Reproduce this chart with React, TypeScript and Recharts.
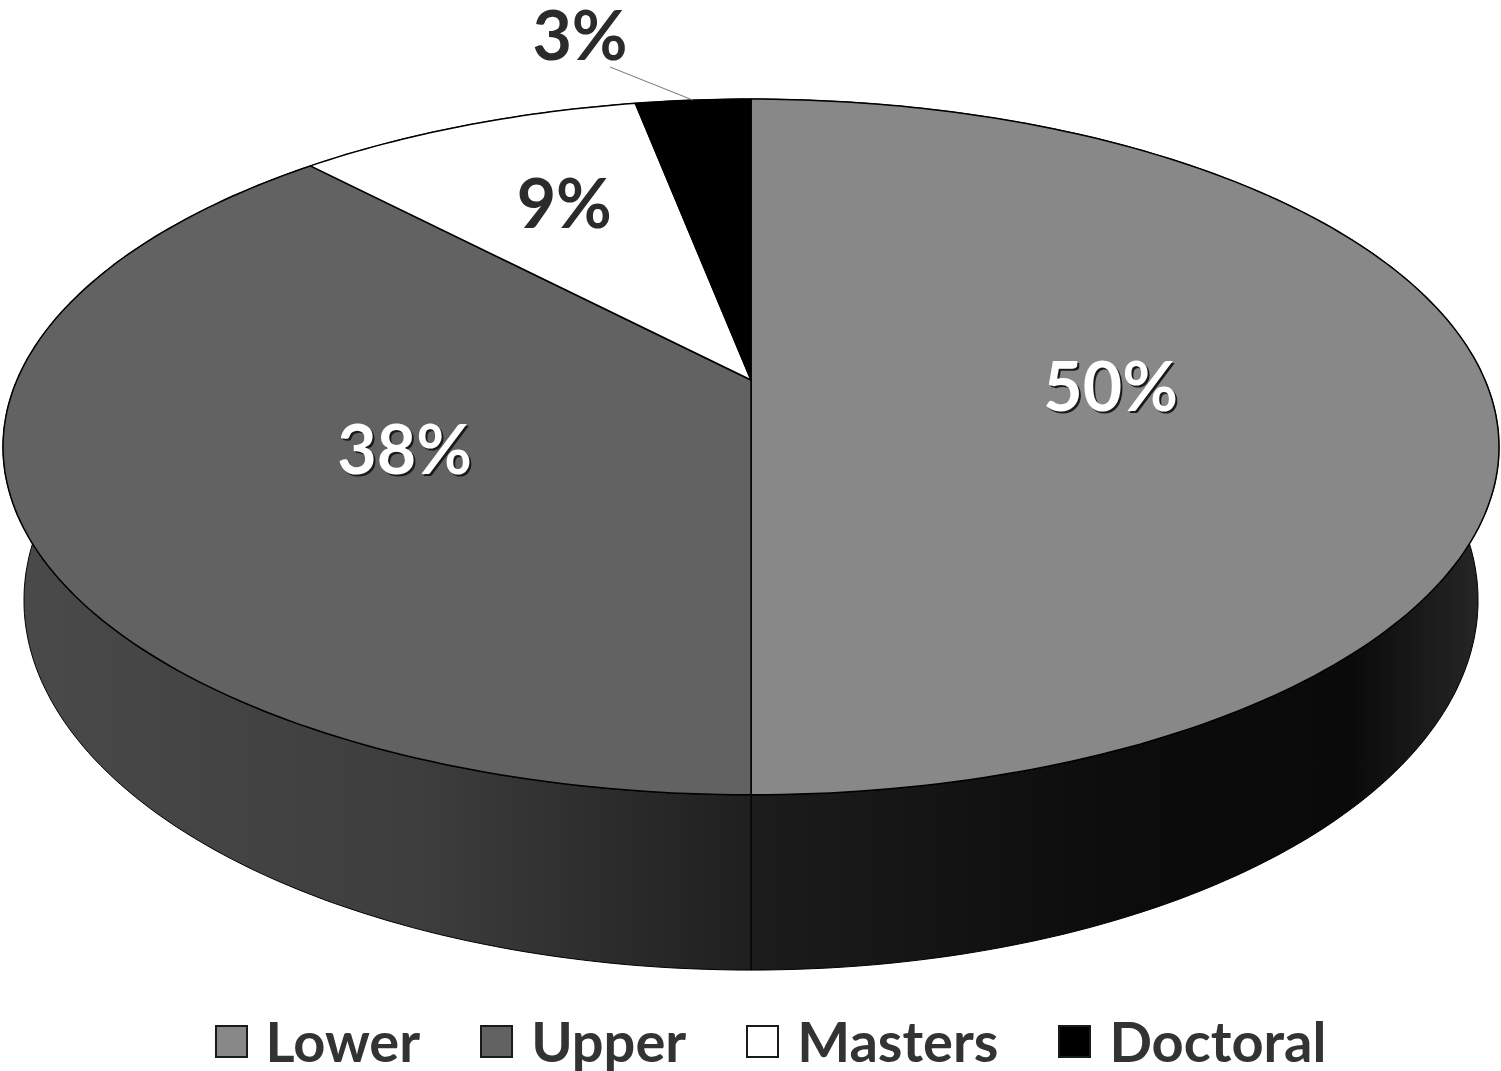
import React from "react";
import { PieChart, Pie, Cell, Legend } from "recharts";

const levels = ["Lower", "Upper", "Masters", "Doctoral"];
const shares = [50, 38, 9, 3];
const faceColors = ["#888888", "#626262", "#ffffff", "#000000"];
const wallFills = ["url(#lowerWall)", "url(#upperWall)", "#ffffff", "#000000"];

const pieData = levels.map((name, i) => ({ name, value: shares[i] }));

// perspective of the disc: front edge is nearer, so it spreads out
const NEAR = -0.1925;
const TOP_DEPTH = 0.3567;
const BOTTOM_SCALE = 0.972;
const BOTTOM_DROP = 149;
const BOTTOM_DEPTH = 0.3465;
const RAD = Math.PI / 180;

const project = (cx: number, cy: number, r: number, angle: number, frac = 1) => {
  const u = frac * Math.cos(angle * RAD);
  const v = -frac * Math.sin(angle * RAD);
  const w = 1 + NEAR * v;
  return { x: cx + (r * u) / w, y: (cy + r * TOP_DEPTH * v) / w };
};

const projectBase = (cx: number, cy: number, r: number, angle: number) => {
  const u = Math.cos(angle * RAD);
  const v = -Math.sin(angle * RAD);
  const w = 1 + NEAR * v;
  return {
    x: cx + (r * BOTTOM_SCALE * u) / w,
    y: (cy + BOTTOM_DROP + r * BOTTOM_DEPTH * v) / w,
  };
};

const arcPoints = (start: number, end: number) => {
  const steps = Math.max(2, Math.ceil(Math.abs(end - start)));
  return Array.from({ length: steps + 1 }, (_, i) => start + ((end - start) * i) / steps);
};

const toPath = (pts: { x: number; y: number }[]) =>
  pts.map((p, i) => `${i ? "L" : "M"}${p.x.toFixed(1)} ${p.y.toFixed(1)}`).join(" ") + " Z";

const FaceSector = (props: any) => {
  const { cx, cy, outerRadius, startAngle, endAngle, fill } = props;
  const rim = arcPoints(startAngle, endAngle).map((a) => project(cx, cy, outerRadius, a));
  return (
    <path
      d={toPath([{ x: cx, y: cy }, ...rim])}
      fill={fill}
      stroke="#000000"
      strokeWidth={1.5}
      strokeLinejoin="round"
    />
  );
};

const WallSector = (props: any) => {
  const { cx, cy, outerRadius, startAngle, endAngle, fill } = props;
  const angles = arcPoints(startAngle, endAngle);
  const top = angles.map((a) => project(cx, cy, outerRadius, a));
  const base = angles.map((a) => projectBase(cx, cy, outerRadius, a)).reverse();
  return <path d={toPath([...top, ...base])} fill={fill} stroke="#000000" strokeWidth={1} />;
};

// the 3% slice is too thin to hold its label, so it sits outside on a leader line
const SliceLabel = (props: any) => {
  const { cx, cy, outerRadius, midAngle, value } = props;
  const text = `${value}%`;
  const base = { fontFamily: "Lato, sans-serif", fontWeight: 700, fontSize: 68, textAnchor: "middle" as const };

  if (value < 5) {
    const tip = project(cx, cy, outerRadius, midAngle);
    return (
      <g>
        <line x1={tip.x} y1={tip.y} x2={610} y2={67} stroke="#777777" strokeWidth={1} />
        <text x={580} y={60} fill="#2b2b2b" {...base}>
          {text}
        </text>
      </g>
    );
  }

  const onDark = value > 20;
  const pos = project(cx, cy, outerRadius, midAngle, onDark ? 0.49 : 0.62);
  const y = pos.y + (onDark ? 31 : 15);
  return (
    <g>
      {onDark && (
        <text x={pos.x + 2} y={y + 2} fill="#1a1a1a" {...base}>
          {text}
        </text>
      )}
      <text x={pos.x} y={y} fill={onDark ? "#ffffff" : "#2b2b2b"} {...base}>
        {text}
      </text>
    </g>
  );
};

const LegendRow = () => (
  <div
    style={{
      display: "flex",
      justifyContent: "center",
      alignItems: "center",
      gap: 60,
      paddingLeft: 40,
      fontFamily: "Lato, sans-serif",
      fontWeight: 700,
      fontSize: 56,
      lineHeight: "60px",
      color: "#333333",
    }}
  >
    {levels.map((name, i) => (
      <div key={name} style={{ display: "flex", alignItems: "center", gap: 18 }}>
        <span
          style={{
            width: 29,
            height: 29,
            background: faceColors[i],
            border: "2.5px solid #1a1a1a",
            display: "inline-block",
          }}
        />
        {name}
      </div>
    ))}
  </div>
);

export default function App() {
  return (
    <div style={{ position: "absolute", left: 0, top: 0, width: 1501, height: 1071, background: "#ffffff" }}>
      <PieChart width={1501} height={1071} margin={{ top: 0, right: 0, bottom: 0, left: 0 }}>
        <defs>
          <linearGradient id="upperWall" x1="0" y1="0" x2="1" y2="0">
            <stop offset="0%" stopColor="#4a4a4a" />
            <stop offset="55%" stopColor="#3e3e3e" />
            <stop offset="100%" stopColor="#1f1f1f" />
          </linearGradient>
          <linearGradient id="lowerWall" x1="0" y1="0" x2="1" y2="0">
            <stop offset="0%" stopColor="#1c1c1c" />
            <stop offset="50%" stopColor="#0c0c0c" />
            <stop offset="80%" stopColor="#0a0a0a" />
            <stop offset="100%" stopColor="#2a2a2a" />
          </linearGradient>
        </defs>
        {/* side of the disc goes first, the top faces paint over its back half */}
        <Pie
          data={pieData}
          dataKey="value"
          nameKey="name"
          cx={751}
          cy={380}
          outerRadius={734}
          startAngle={90}
          endAngle={-270}
          legendType="none"
          isAnimationActive={false}
          shape={WallSector}
        >
          {pieData.map((d, i) => (
            <Cell key={d.name} fill={wallFills[i]} />
          ))}
        </Pie>
        <Pie
          data={pieData}
          dataKey="value"
          nameKey="name"
          cx={751}
          cy={380}
          outerRadius={734}
          startAngle={90}
          endAngle={-270}
          legendType="square"
          isAnimationActive={false}
          shape={FaceSector}
          label={SliceLabel}
          labelLine={false}
        >
          {pieData.map((d, i) => (
            <Cell key={d.name} fill={faceColors[i]} />
          ))}
        </Pie>
        <Legend
          content={<LegendRow />}
          verticalAlign="bottom"
          wrapperStyle={{ left: 0, width: 1501, bottom: 0 }}
        />
      </PieChart>
    </div>
  );
}
